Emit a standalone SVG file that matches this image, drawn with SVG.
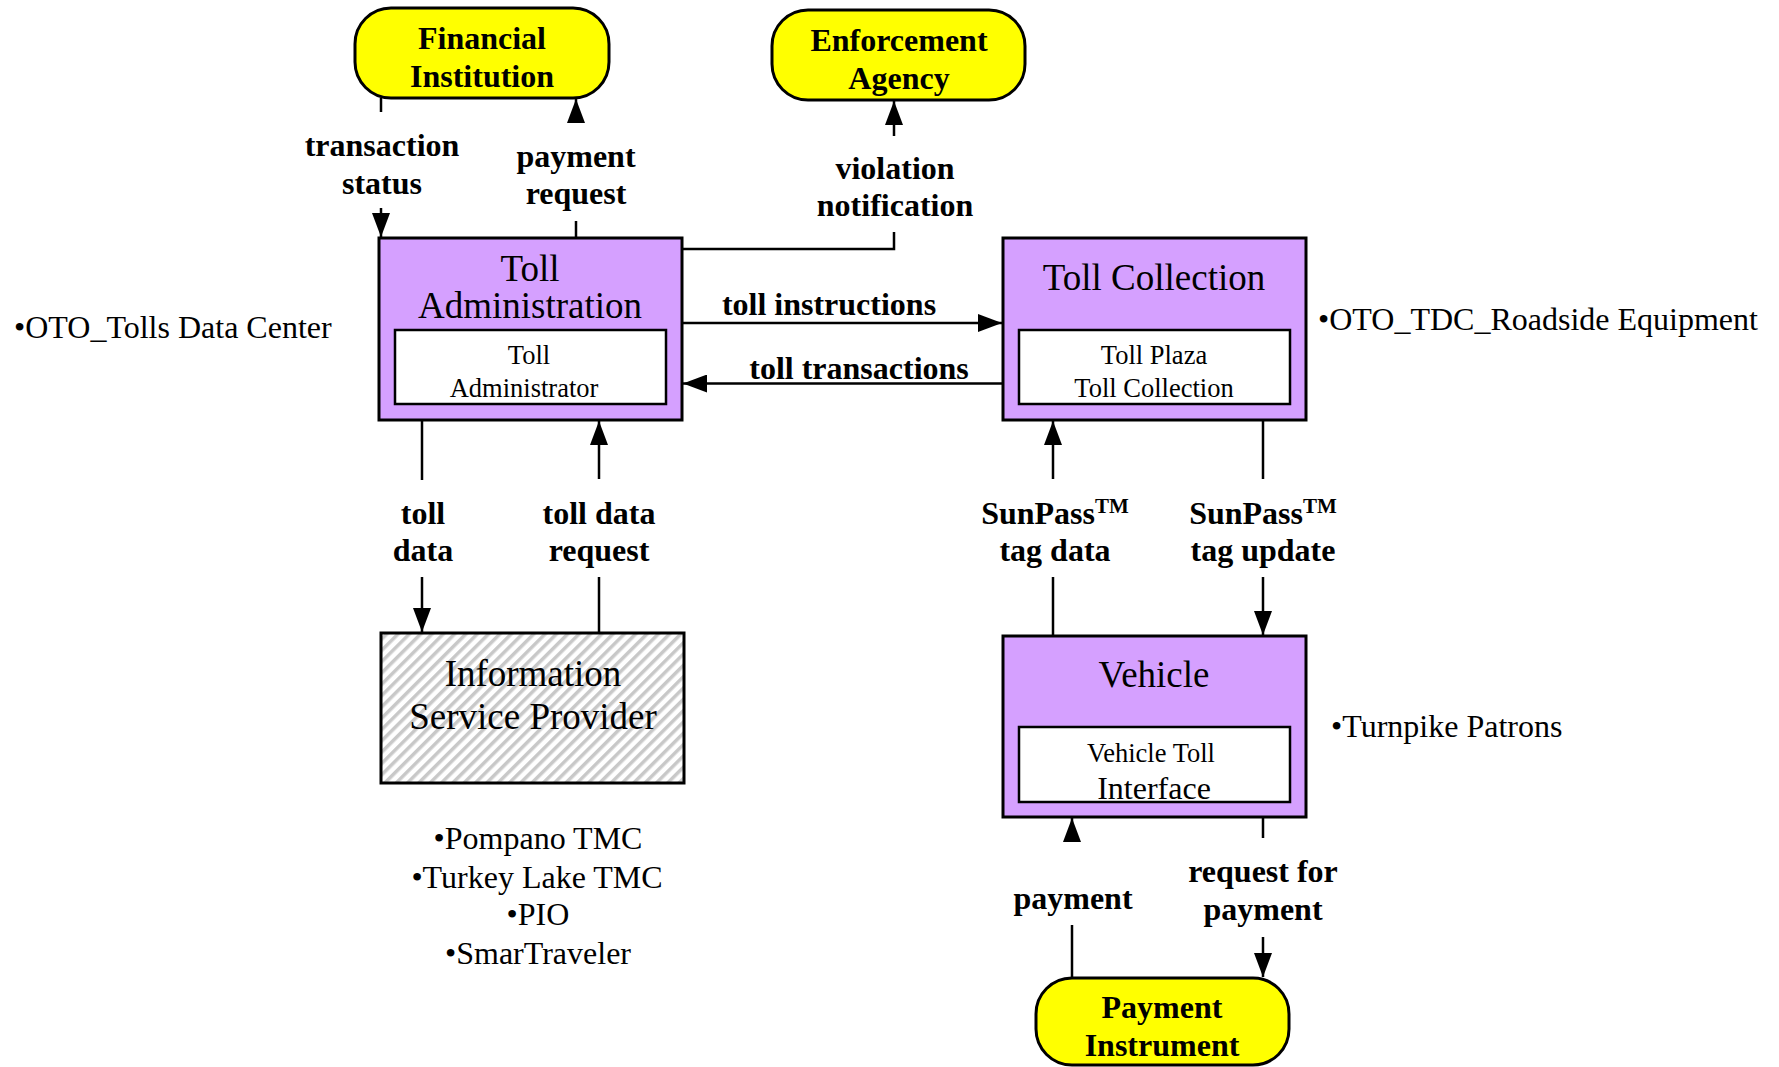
<svg xmlns="http://www.w3.org/2000/svg" width="1779" height="1067" viewBox="0 0 1779 1067">
<style>
  .box{fill:#D5A0FF;stroke:#000;stroke-width:3}
  .inner{fill:#fff;stroke:#000;stroke-width:2.5}
  .term{fill:#FFFF00;stroke:#000;stroke-width:3}
  .hatch{fill:url(#hatch);stroke:#000;stroke-width:3}
  .ttl{font-family:"Liberation Serif","Times New Roman",serif;font-size:37px;text-anchor:middle;fill:#000}
  .sub{font-family:"Liberation Serif","Times New Roman",serif;font-size:26.5px;text-anchor:middle;fill:#000}
  .bt{font-family:"Liberation Serif","Times New Roman",serif;font-size:32px;font-weight:bold;text-anchor:middle;fill:#000}
  .note{font-family:"Liberation Serif","Times New Roman",serif;font-size:32px;fill:#000}
  .c line,.c polyline{stroke:#000;stroke-width:2.5;fill:none}
  .a{marker-end:url(#ah)}
</style>
<defs>
  <marker id="ah" viewBox="0 0 24 18" refX="24" refY="9" markerWidth="24" markerHeight="18" markerUnits="userSpaceOnUse" orient="auto">
    <path d="M0,0 L24,9 L0,18 z" fill="#000"/>
  </marker>
  <pattern id="hatch" patternUnits="userSpaceOnUse" width="8" height="8" patternTransform="rotate(45)">
    <rect width="8" height="8" fill="#fff"/>
    <rect width="3.5" height="8" fill="#C8C8C8"/>
  </pattern>
</defs>
<rect width="1779" height="1067" fill="#fff"/>

<g id="financial-institution">
  <rect class="term" x="355" y="8" width="254" height="90" rx="36"/>
  <text class="bt" x="482" y="49">Financial</text>
  <text class="bt" x="482" y="87">Institution</text>
</g>
<g id="enforcement-agency">
  <rect class="term" x="772" y="10" width="253" height="90" rx="36"/>
  <text class="bt" x="899" y="51">Enforcement</text>
  <text class="bt" x="899" y="89">Agency</text>
</g>
<g id="toll-administration">
  <rect class="box" x="379" y="238" width="303" height="182"/>
  <text class="ttl" x="530" y="281">Toll</text>
  <text class="ttl" x="530" y="318">Administration</text>
  <rect class="inner" x="395" y="330" width="271" height="74"/>
  <text class="sub" x="529" y="364">Toll</text>
  <text class="sub" x="524" y="397">Administrator</text>
</g>
<g id="toll-collection">
  <rect class="box" x="1003" y="238" width="303" height="182"/>
  <text class="ttl" x="1154" y="290">Toll Collection</text>
  <rect class="inner" x="1019" y="330" width="271" height="74"/>
  <text class="sub" x="1154" y="364">Toll Plaza</text>
  <text class="sub" x="1154" y="397">Toll Collection</text>
</g>
<g id="information-service-provider">
  <rect class="hatch" x="381" y="633" width="303" height="150"/>
  <text class="ttl" x="533" y="686">Information</text>
  <text class="ttl" x="533" y="729">Service Provider</text>
</g>
<g id="vehicle">
  <rect class="box" x="1003" y="636" width="303" height="181"/>
  <text class="ttl" x="1154" y="687">Vehicle</text>
  <rect class="inner" x="1019" y="727" width="271" height="75"/>
  <text class="sub" x="1151" y="762">Vehicle Toll</text>
  <text class="sub" x="1154" y="799" style="font-size:32px">Interface</text>
</g>
<g id="payment-instrument">
  <rect class="term" x="1036" y="978" width="253" height="87" rx="36"/>
  <text class="bt" x="1162" y="1018">Payment</text>
  <text class="bt" x="1162" y="1056">Instrument</text>
</g>

<g id="notes">
  <text class="note" x="14" y="338">•OTO_Tolls Data Center</text>
  <text class="note" x="1318" y="330">•OTO_TDC_Roadside Equipment</text>
  <text class="note" x="1331" y="737">•Turnpike Patrons</text>
  <text class="note" x="538" y="849" text-anchor="middle">•Pompano TMC</text>
  <text class="note" x="537" y="888" text-anchor="middle">•Turkey Lake TMC</text>
  <text class="note" x="538" y="925" text-anchor="middle">•PIO</text>
  <text class="note" x="538" y="964" text-anchor="middle">•SmarTraveler</text>
</g>

<g id="connectors" class="c">
  <line x1="381" y1="98" x2="381" y2="112"/>
  <line class="a" x1="381" y1="208" x2="381" y2="237"/>
  <line class="a" x1="576" y1="122" x2="576" y2="99"/>
  <line x1="576" y1="221" x2="576" y2="237"/>
  <polyline points="682,249 894,249 894,232"/>
  <line class="a" x1="894" y1="136" x2="894" y2="101"/>
  <line class="a" x1="682" y1="323" x2="1002" y2="323"/>
  <line class="a" x1="1003" y1="383.5" x2="683" y2="383.5"/>
  <line x1="422" y1="420" x2="422" y2="480"/>
  <line class="a" x1="422" y1="577" x2="422" y2="632"/>
  <line class="a" x1="599" y1="479" x2="599" y2="421"/>
  <line x1="599" y1="577" x2="599" y2="633"/>
  <line class="a" x1="1053" y1="479" x2="1053" y2="421"/>
  <line x1="1053" y1="577" x2="1053" y2="636"/>
  <line x1="1263" y1="420" x2="1263" y2="479"/>
  <line class="a" x1="1263" y1="577" x2="1263" y2="635"/>
  <line class="a" x1="1072" y1="840" x2="1072" y2="818"/>
  <line x1="1072" y1="925" x2="1072" y2="978"/>
  <line x1="1263" y1="817" x2="1263" y2="838"/>
  <line class="a" x1="1263" y1="937" x2="1263" y2="977"/>
</g>

<g id="connector-labels">
  <text class="bt" x="382" y="156">transaction</text>
  <text class="bt" x="382" y="194">status</text>
  <text class="bt" x="576" y="167">payment</text>
  <text class="bt" x="576" y="204">request</text>
  <text class="bt" x="895" y="179">violation</text>
  <text class="bt" x="895" y="216">notification</text>
  <text class="bt" x="829" y="315">toll instructions</text>
  <text class="bt" x="859" y="379">toll transactions</text>
  <text class="bt" x="423" y="524">toll</text>
  <text class="bt" x="423" y="561">data</text>
  <text class="bt" x="599" y="524">toll data</text>
  <text class="bt" x="599" y="561">request</text>
  <text class="bt" x="1055" y="524">SunPass<tspan dy="-11" style="font-size:21px">TM</tspan></text>
  <text class="bt" x="1055" y="561">tag data</text>
  <text class="bt" x="1263" y="524">SunPass<tspan dy="-11" style="font-size:21px">TM</tspan></text>
  <text class="bt" x="1263" y="561">tag update</text>
  <text class="bt" x="1073" y="909">payment</text>
  <text class="bt" x="1263" y="882">request for</text>
  <text class="bt" x="1263" y="920">payment</text>
</g>
</svg>
